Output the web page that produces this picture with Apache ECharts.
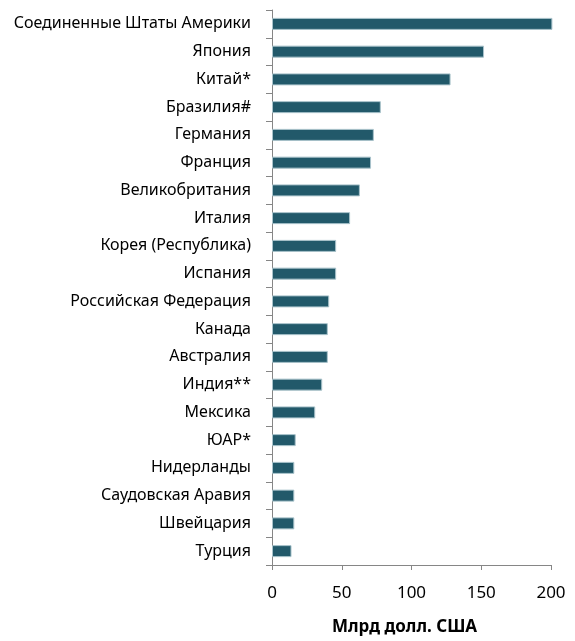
<!DOCTYPE html>
<html>
<head>
<meta charset="utf-8">
<script src="https://cdn.jsdelivr.net/npm/echarts@6/dist/echarts.min.js"></script>
<style>
  html, body { margin: 0; padding: 0; background: #fff; }
  #chart { width: 575px; height: 641px; }
</style>
</head>
<body>
<div id="chart"></div>
<script>
// Countries, top to bottom
const countries = [
  'Соединенные Штаты Америки', 'Япония', 'Китай*', 'Бразилия#', 'Германия',
  'Франция', 'Великобритания', 'Италия', 'Корея (Республика)', 'Испания',
  'Российская Федерация', 'Канада', 'Австралия', 'Индия**', 'Мексика',
  'ЮАР*', 'Нидерланды', 'Саудовская Аравия', 'Швейцария', 'Турция'
];
// Values, billion USD
const values = [201, 152, 128, 78, 73, 71, 63, 56, 46, 46, 41, 40, 40, 36, 31, 17, 16, 16, 16, 14];
const xTicks = [0, 50, 100, 150, 200];
const xTitle = 'Млрд долл. США';

const font = 'Noto Sans';
const axisGrey = '#868686';

const chart = echarts.init(document.getElementById('chart'), null, { renderer: 'canvas' });
chart.setOption({
  animation: false,
  grid: { left: 272, right: 24, top: 10, bottom: 73, containLabel: false },
  xAxis: {
    type: 'value',
    min: xTicks[0],
    max: xTicks[xTicks.length - 1],
    interval: xTicks[1] - xTicks[0],
    name: xTitle,
    nameLocation: 'middle',
    nameGap: 54,
    nameTextStyle: { fontFamily: font, fontSize: 17, fontWeight: 'bold', color: '#000', padding: [0, 14, 0, 0] },
    axisLine: { show: true, lineStyle: { color: axisGrey, width: 1 } },
    axisTick: { show: true, length: 5, lineStyle: { color: axisGrey } },
    axisLabel: { fontFamily: font, fontSize: 17, color: '#000', margin: 20 },
    splitLine: { show: false }
  },
  yAxis: {
    type: 'category',
    data: countries,
    inverse: true,
    axisLine: { show: true, lineStyle: { color: axisGrey, width: 1 } },
    axisTick: { show: true, length: 6, lineStyle: { color: axisGrey } },
    axisLabel: { fontFamily: font, fontSize: 16, color: '#000', margin: 21, padding: [4, 0, 0, 0] }
  },
  series: [{
    type: 'bar',
    data: values,
    barWidth: 12,
    clip: false,
    itemStyle: { color: '#22596a', borderColor: '#a9c3cb', borderWidth: 1 }
  }]
});
</script>
</body>
</html>
